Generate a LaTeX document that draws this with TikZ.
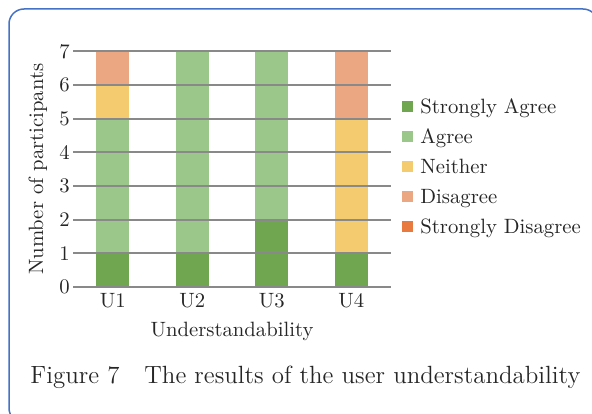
\documentclass[tikz,border=0pt]{standalone}
\definecolor{sagree}{RGB}{112,166,80}
\definecolor{agree}{RGB}{155,199,139}
\definecolor{neither}{RGB}{244,203,110}
\definecolor{disagree}{RGB}{235,166,130}
\definecolor{sdisagree}{RGB}{233,122,63}
\definecolor{gridgray}{RGB}{137,137,137}
\definecolor{frameblue}{RGB}{68,114,196}

\begin{document}
\begin{tikzpicture}[x=0.5pt, y=0.5pt,
    every node/.style={font=\fontsize{10.35}{12}\selectfont, inner sep=0pt, text=black!85},
    framebox/.style={draw=frameblue, line width=0.75pt, rounded corners=7.5pt},
    gridline/.style={draw=gridgray, line width=1.1pt},
    swatch/.style={minimum size=5.5pt, inner sep=0pt}]
	\useasboundingbox (0,0) rectangle (592,413);
	\begin{scope}
		\clip (0,0) rectangle (592,413);
		\draw[framebox] (9,-10) rectangle (598,404);
	\end{scope}

	\coordinate (O) at (73,126);  % chart origin
	\begin{scope}[shift={(O)}, x=39.75pt, y=16.835pt]
		% stacked bars: category/from/to/colour
		\foreach \n/\lo/\hi/\col in {1/0/1/sagree, 1/1/5/agree, 1/5/6/neither, 1/6/7/disagree,
				2/0/1/sagree, 2/1/7/agree,
				3/0/2/sagree, 3/2/7/agree,
				4/0/1/sagree, 4/1/5/neither, 4/5/7/disagree}
			\fill[\col] (\n-0.706,\lo) rectangle (\n-0.294,\hi);
		% grid and ticks
		\foreach \k in {0,...,7}{
			\draw[gridline] (0,\k) -- (4,\k);
			\node[anchor=east] (tick\k) at ([xshift=-1.5pt]0,\k) {\k};
		}
		\foreach \n in {1,...,4}
			\node[anchor=north] (cat\n) at ([yshift=-3pt]\n-0.5,0) {U\n};
		\node[anchor=base] (xlabel) at ([yshift=-24.5pt]2,0) {Understandability};
		\node[anchor=base, rotate=90] (ylabel) at (-0.377,3.5) {Number of participants};
	\end{scope}

	% legend
	\foreach \name/\col [count=\i from 0] in {Strongly Agree/sagree, Agree/agree, Neither/neither,
			Disagree/disagree, Strongly Disagree/sdisagree}{
		\node[swatch, fill=\col] (key\i) at (407,{306.5-30*\i}) {};
		\node[anchor=base west] (entry\i) at ([yshift=-3.35pt]420,{306.5-30*\i}) {\name};
	}

	\node[anchor=base west, font=\fontsize{12.45}{14}\selectfont] (caption) at (30,30)
		{Figure 7\quad The results of the user understandability};
\end{tikzpicture}
\end{document}
